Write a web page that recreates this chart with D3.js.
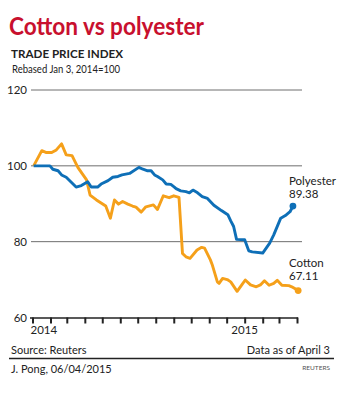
<!DOCTYPE html>
<html>
<head>
<meta charset="utf-8">
<script src="https://cdn.jsdelivr.net/npm/d3@7/dist/d3.min.js"></script>
<style>
  html, body { margin: 0; padding: 0; background: #fff; }
  svg { display: block; }
  text { font-family: Lato, "Open Sans", sans-serif; fill: #222; }
</style>
</head>
<body>
<svg id="chart" width="350" height="395"></svg>
<script>
// ---- data ----
const cottonDates = ["2014-01-03","2014-01-17","2014-01-25","2014-02-03","2014-02-11","2014-02-20","2014-02-28","2014-03-10","2014-03-20","2014-03-29","2014-04-04","2014-04-10","2014-04-21","2014-05-07","2014-05-15","2014-05-22","2014-05-29","2014-06-05","2014-06-14","2014-06-22","2014-06-28","2014-07-07","2014-07-15","2014-07-28","2014-08-04","2014-08-14","2014-08-24","2014-09-01","2014-09-10","2014-09-16","2014-09-22","2014-09-29","2014-10-11","2014-10-19","2014-10-24","2014-11-03","2014-11-06","2014-11-15","2014-11-18","2014-11-24","2014-12-02","2014-12-08","2014-12-19","2014-12-27","2015-01-02","2015-01-11","2015-01-21","2015-01-28","2015-02-04","2015-02-12","2015-02-20","2015-02-26","2015-03-06","2015-03-18","2015-03-23","2015-04-03"];
const cottonValues = [100,104.0,103.5,103.5,104.2,105.8,102.9,102.7,99.6,97.6,96.3,92.3,91.0,89.4,86.2,91.0,89.9,90.6,89.9,89.4,89.1,87.8,89.2,89.7,88.5,92.1,91.6,92.1,91.7,76.9,76.0,75.6,77.8,78.5,78.3,75.2,74.0,69.4,69.0,70.3,70.0,69.4,66.9,68.6,69.9,68.6,68.1,68.6,69.7,68.5,69.0,69.8,68.5,68.4,68.1,67.11];

const polyDates = ["2014-01-03","2014-01-31","2014-02-05","2014-02-14","2014-02-20","2014-02-28","2014-03-17","2014-03-26","2014-04-06","2014-04-12","2014-04-23","2014-04-29","2014-05-11","2014-05-19","2014-05-28","2014-06-04","2014-06-17","2014-07-03","2014-07-10","2014-07-18","2014-07-24","2014-07-30","2014-08-04","2014-08-13","2014-08-19","2014-08-27","2014-09-02","2014-09-05","2014-09-13","2014-09-22","2014-09-28","2014-10-04","2014-10-12","2014-10-20","2014-10-29","2014-11-09","2014-11-22","2014-12-03","2014-12-08","2014-12-13","2014-12-18","2015-01-01","2015-01-08","2015-01-14","2015-02-01","2015-02-13","2015-02-20","2015-03-04","2015-03-12","2015-03-20","2015-03-25"];
const polyValues = [100,100,99.1,98.7,97.6,97.0,94.4,94.8,95.8,94.4,94.4,95.2,96.1,97.0,97.2,97.6,98.0,99.6,99.1,98.7,98.7,97.6,97.2,96.3,95.2,95.1,94.4,94.0,93.4,93.2,92.9,93.6,92.9,91.9,91.4,89.6,88.2,87.1,85.5,84.0,80.6,80.5,77.6,77.3,77.0,79.6,81.8,86.2,86.9,87.9,89.38];

const yTicks = [60, 80, 100, 120];
const xTickDates = ["2014-01-01","2014-02-01","2014-03-01","2014-04-01","2014-05-01","2014-06-01","2014-07-01","2014-08-01","2014-09-01","2014-10-01","2014-11-01","2014-12-01","2015-01-01","2015-02-01","2015-03-01","2015-04-01"];
const yearLabels = [{date: "2014-01-01", label: "2014"}, {date: "2015-01-01", label: "2015"}];

// ---- setup ----
const parse = d3.timeParse("%Y-%m-%d");
const svg = d3.select("#chart");
const x = d3.scaleTime()
  .domain([parse("2014-01-01"), parse("2015-04-01")])
  .range([32.5, 297]);
const y = d3.scaleLinear().domain([60, 120]).range([317.5, 90]);

const cotton = cottonDates.map((d, i) => ({date: parse(d), value: cottonValues[i]}));
const poly = polyDates.map((d, i) => ({date: parse(d), value: polyValues[i]}));

// Titles
svg.append("text").attr("x", 9).attr("y", 35)
  .attr("font-size", 25).attr("font-weight", 700)
  .style("fill", "#c8102e")
  .attr("textLength", 195).attr("lengthAdjust", "spacingAndGlyphs")
  .text("Cotton vs polyester");
svg.append("text").attr("x", 11).attr("y", 58)
  .attr("font-size", 12).attr("font-weight", 700)
  .attr("textLength", 112).attr("lengthAdjust", "spacingAndGlyphs")
  .text("TRADE PRICE INDEX");
svg.append("text").attr("x", 12).attr("y", 73)
  .attr("font-size", 11)
  .attr("textLength", 108).attr("lengthAdjust", "spacingAndGlyphs")
  .text("Rebased Jan 3, 2014=100");

// Gridlines
svg.append("g").selectAll("line").data(yTicks.filter(t => t !== 60)).join("line")
  .attr("x1", 31).attr("x2", 302)
  .attr("y1", d => y(d)).attr("y2", d => y(d))
  .attr("stroke", "#6e6e6e").attr("stroke-width", 1);

// y labels
svg.append("g").selectAll("text").data(yTicks).join("text")
  .attr("x", 27).attr("y", d => y(d) + 4)
  .attr("text-anchor", "end").attr("font-size", 11.5)
  .text(d => d);

// x axis
const xAxis = d3.axisBottom(x)
  .tickValues(xTickDates.map(parse))
  .tickSize(6).tickFormat("");
const gx = svg.append("g").attr("transform", `translate(0,${y(60)})`).call(xAxis);
gx.select(".domain").attr("d", `M30,0.5H298`).attr("stroke", "#222").attr("stroke-width", 1.3);
gx.selectAll(".tick line").attr("stroke", "#222").attr("stroke-width", 2);

svg.append("g").selectAll("text").data(yearLabels).join("text")
  .attr("x", d => x(parse(d.date)) + (d.label === "2014" ? -2 : 0))
  .attr("y", 334)
  .attr("text-anchor", d => d.label === "2014" ? "start" : "middle")
  .attr("font-size", 11.5)
  .text(d => d.label);

// Lines
const line = d3.line().x(d => x(d.date)).y(d => y(d.value));
svg.append("path").datum(cotton).attr("d", line)
  .attr("fill", "none").attr("stroke", "#f5a01a").attr("stroke-width", 2.9)
  .attr("stroke-linejoin", "round");
svg.append("path").datum(poly).attr("d", line)
  .attr("fill", "none").attr("stroke", "#0e6fb7").attr("stroke-width", 2.9)
  .attr("stroke-linejoin", "round");

const lastC = cotton[cotton.length - 1];
const lastP = poly[poly.length - 1];
svg.append("circle").attr("cx", x(lastC.date)).attr("cy", y(lastC.value)).attr("r", 3.4).attr("fill", "#f5a01a");
svg.append("circle").attr("cx", x(lastP.date)).attr("cy", y(lastP.value)).attr("r", 3.4).attr("fill", "#0e6fb7");

// End labels
svg.append("text").attr("x", 289).attr("y", 185).attr("font-size", 11.5).text("Polyester");
svg.append("text").attr("x", 289).attr("y", 198).attr("font-size", 11.5).text(lastP.value.toFixed(2));
svg.append("text").attr("x", 289).attr("y", 267).attr("font-size", 11.5).text("Cotton");
svg.append("text").attr("x", 289).attr("y", 280).attr("font-size", 11.5).text(lastC.value.toFixed(2));

// Footer
svg.append("text").attr("x", 11).attr("y", 354).attr("font-size", 11).text("Source: Reuters");
svg.append("text").attr("x", 330).attr("y", 354).attr("text-anchor", "end").attr("font-size", 11).text("Data as of April 3");
svg.append("line").attr("x1", 9).attr("x2", 334).attr("y1", 358.5).attr("y2", 358.5)
  .attr("stroke", "#222").attr("stroke-width", 1.3);
svg.append("text").attr("x", 11).attr("y", 373).attr("font-size", 11).text("J. Pong, 06/04/2015");
svg.append("text").attr("x", 330).attr("y", 370).attr("text-anchor", "end").attr("font-size", 6.5).style("fill", "#555").text("REUTERS");
</script>
</body>
</html>
